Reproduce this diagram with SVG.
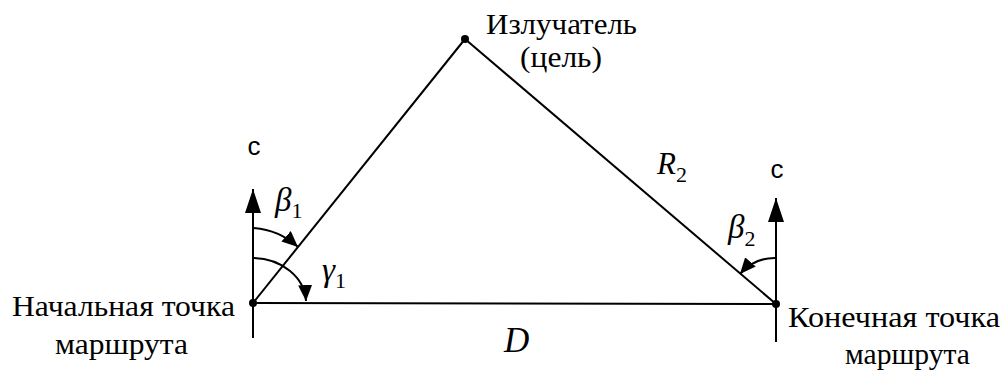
<svg xmlns="http://www.w3.org/2000/svg" width="1005" height="377" viewBox="0 0 1005 377">
<style>
.ln{stroke:#000;stroke-width:2;fill:none}
.tx{font-family:"Liberation Serif","Times New Roman","DejaVu Serif",serif;fill:#000}
.sn{font-family:"Liberation Sans",Arial,sans-serif;fill:#000}
</style>
<defs>
<marker id="big" viewBox="0 0 10 10" refX="10" refY="5" markerWidth="24" markerHeight="16" markerUnits="userSpaceOnUse" orient="auto" preserveAspectRatio="none"><path d="M0,0 L10,5 L0,10 z" fill="#000"/></marker>
<marker id="arc" viewBox="0 0 10 10" refX="10" refY="5" markerWidth="16" markerHeight="14" markerUnits="userSpaceOnUse" orient="auto" preserveAspectRatio="none"><path d="M0,0 L10,5 L0,10 z" fill="#000"/></marker>
</defs>
<g id="connectors">
<line class="ln" x1="253" y1="303" x2="465" y2="39"/>
<line class="ln" x1="465" y1="39" x2="776" y2="304"/>
<line class="ln" x1="253" y1="303" x2="776" y2="304"/>
<line class="ln" x1="253" y1="338" x2="253" y2="189" marker-end="url(#big)"/>
<line class="ln" x1="776" y1="342" x2="776" y2="198" marker-end="url(#big)"/>
<path class="ln" d="M253,228 A75,75 0 0 1 298,247" marker-end="url(#arc)"/>
<path class="ln" d="M253,258 A54,45 0 0 1 306,301" marker-end="url(#arc)"/>
<path class="ln" d="M776,258 A46,46 0 0 0 740,274" marker-end="url(#arc)"/>
</g>
<g class="tx" font-size="29">
<g id="emitter">
<circle cx="465" cy="39" r="4"/>
<text x="486" y="34" textLength="151" lengthAdjust="spacingAndGlyphs">Излучатель</text>
<text x="520" y="67" textLength="82" lengthAdjust="spacingAndGlyphs">(цель)</text>
</g>
<g id="start">
<circle cx="253" cy="303" r="4"/>
<text x="12" y="316" textLength="223" lengthAdjust="spacingAndGlyphs">Начальная точка</text>
<text x="55" y="354" textLength="133" lengthAdjust="spacingAndGlyphs">маршрута</text>
<text class="sn" x="254" y="155" text-anchor="middle" font-size="26">c</text>
</g>
<g id="end">
<circle cx="776" cy="304" r="4"/>
<text x="788" y="327" textLength="212" lengthAdjust="spacingAndGlyphs">Конечная точка</text>
<text x="845" y="364" textLength="125" lengthAdjust="spacingAndGlyphs">маршрута</text>
<text class="sn" x="777" y="178" text-anchor="middle" font-size="26">c</text>
</g>
<g id="labels" font-style="italic" font-size="33">
<text x="275" y="211">β<tspan font-size="22" font-style="normal" dy="7">1</tspan></text>
<text x="322" y="281">γ<tspan font-size="22" font-style="normal" dy="7">1</tspan></text>
<text x="728" y="238">β<tspan font-size="22" font-style="normal" dy="8">2</tspan></text>
<text x="657" y="174" font-size="31">R<tspan font-size="22" font-style="normal" dy="8">2</tspan></text>
<text x="504" y="352" font-size="35">D</text>
</g>
</g>
</svg>
